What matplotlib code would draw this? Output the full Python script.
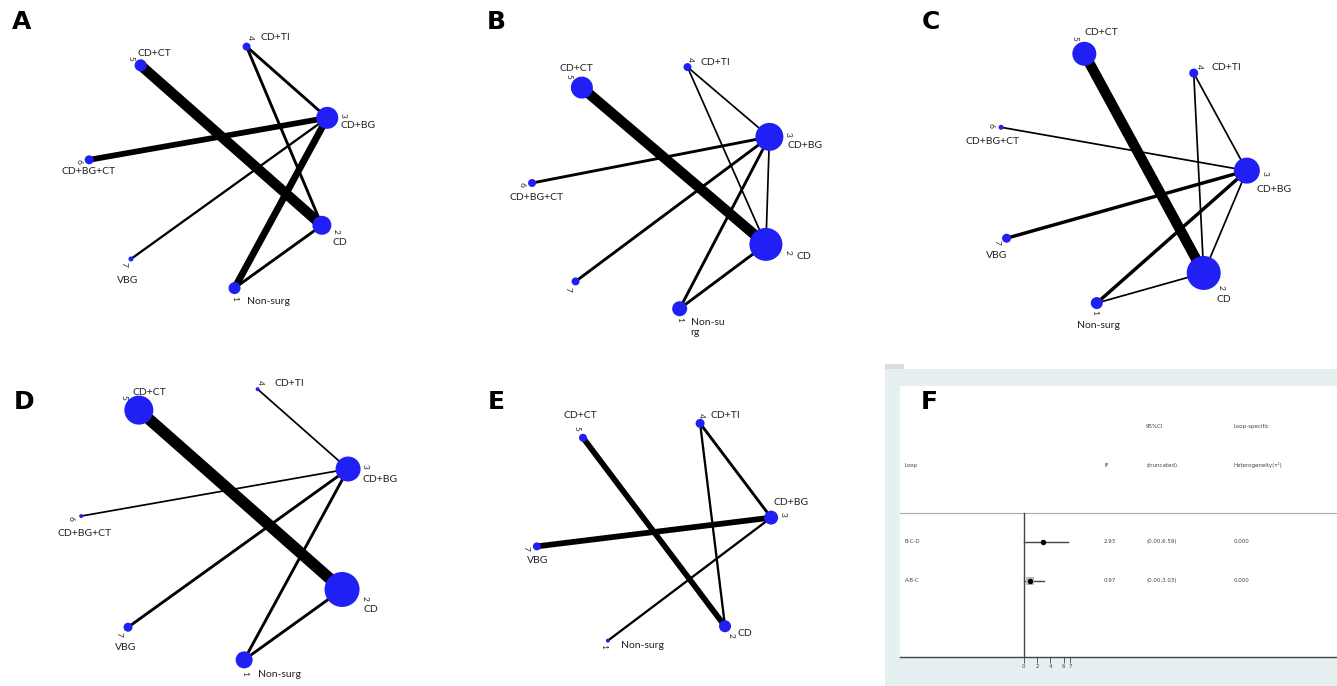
import numpy as np
import matplotlib
matplotlib.use('Agg')
import matplotlib.pyplot as plt
from matplotlib.patches import Rectangle
from matplotlib.transforms import blended_transform_factory

W, H, DPI = 1337, 686, 100
PT = 72 / DPI  # points per pixel

# ---- data -------------------------------------------------------------
names = ['Non-surg', 'CD', 'CD+BG', 'CD+TI', 'CD+CT', 'CD+BG+CT', 'VBG']

# node sizes (diameter) for nodes 1..7, edges and edge widths
a_nodes = [1, 2, 3, 4, 5, 6, 7]
a_size = [12, 19, 22, 8, 12, 9, 5]
a_edges = [(5, 2), (6, 3), (3, 1), (4, 3), (4, 2), (7, 3), (2, 1)]
a_width = [9, 5, 6, 2.5, 2.5, 2, 2.5]

b_nodes = [1, 2, 3, 4, 5, 6, 7]
b_size = [15, 33, 28, 8, 22, 8, 8]
b_edges = [(5, 2), (6, 3), (7, 3), (4, 3), (4, 2), (3, 2), (3, 1), (2, 1)]
b_width = [9, 2.5, 2.5, 1.5, 1.5, 1.5, 2.5, 2.5]

c_nodes = [1, 2, 3, 4, 5, 6, 7]
c_size = [12, 34, 26, 9, 24, 5, 9]
c_edges = [(5, 2), (6, 3), (7, 3), (4, 3), (4, 2), (3, 2), (3, 1), (2, 1)]
c_width = [9, 1.5, 3, 1.5, 1.5, 1.5, 3, 1.5]

d_nodes = [1, 2, 3, 4, 5, 6, 7]
d_size = [17, 35, 25, 4, 29, 4, 9]
d_edges = [(5, 2), (6, 3), (7, 3), (4, 3), (3, 1), (2, 1)]
d_width = [10, 1.5, 2.5, 1.5, 2.5, 2.5]

e_nodes = [1, 2, 3, 4, 5, 7]
e_size = [4, 12, 14, 9, 8, 8]
e_edges = [(5, 2), (7, 3), (4, 3), (4, 2), (3, 1)]
e_width = [5, 5, 2.5, 2, 2]

# inconsistency factor table (panel F)
loops = ['B-C-D', 'A-B-C']
if_vals = [2.93, 0.97]
ci_low = [0.00, 0.00]
ci_high = [6.59, 3.03]
tau2 = [0.000, 0.000]
box_size = [4, 8]
if_ticks = [0, 2, 4, 6, 7]

# ---- layout (pixels) --------------------------------------------------
panels = {
    'A': dict(nodes=a_nodes, size=a_size, edges=a_edges, width=a_width,
              c=(213, 166), r=124, a0=-80, letter=(22, 22),
              labels=names,
              num={1: (0, 10), 2: (14, 6), 3: (16, -2), 4: (4, -9),
                   5: (-10, -7), 6: (-10, 2), 7: (-7, 5)},
              lab={1: (12, 13), 2: (11, 17), 3: (13, 8), 4: (14, -9),
                   5: (-3, -12), 6: (-28, 12), 7: (-14, 22)}),
    'B': dict(nodes=b_nodes, size=b_size, edges=b_edges, width=b_width,
              c=(656, 187), r=124, a0=-79, letter=(496, 22),
              labels=['Non-su\nrg', 'CD', 'CD+BG', 'CD+TI', 'CD+CT',
                      'CD+BG+CT', ''],
              num={1: (0, 11), 2: (22, 8), 3: (19, -2), 4: (3, -8),
                   5: (-13, -11), 6: (-10, 1), 7: (-8, 8)},
              lab={1: (11, 19), 2: (31, 12), 3: (18, 9), 4: (13, -5),
                   5: (-22, -19), 6: (-23, 15), 7: (0, 0)}),
    'C': dict(nodes=c_nodes, size=c_size, edges=c_edges, width=c_width,
              c=(1119, 177), r=128, a0=-100, letter=(931, 22),
              labels=names,
              num={1: (-2, 9), 2: (17, 14), 3: (18, 3), 4: (6, -7),
                   5: (-9, -15), 6: (-10, -2), 7: (-10, 4)},
              lab={1: (-20, 22), 2: (13, 27), 3: (10, 19), 4: (18, -6),
                   5: (0, -21), 6: (-36, 14), 7: (-21, 17)}),
    'D': dict(nodes=d_nodes, size=d_size, edges=d_edges, width=d_width,
              c=(220, 523), r=139, a0=-80, letter=(24, 402),
              labels=names,
              num={1: (1, 14), 2: (23, 9), 3: (17, -3), 4: (3, -7),
                   5: (-15, -13), 6: (-10, 2), 7: (-9, 7)},
              lab={1: (14, 15), 2: (21, 20), 3: (14, 10), 4: (17, -6),
                   5: (-6, -18), 6: (-24, 17), 7: (-13, 20)}),
    'E': dict(nodes=e_nodes, size=e_size, edges=e_edges, width=e_width,
              c=(654, 532), r=118, a0=-113, letter=(496, 402),
              labels=names,
              num={1: (-4, 6), 2: (6, 9), 3: (12, -3), 4: (1, -8),
                   5: (-6, -9), 7: (-11, 2)},
              lab={1: (13, 5), 2: (12, 7), 3: (2, -15), 4: (10, -8),
                   5: (-19, -22), 7: (-10, 14)}),
}

NODE_COLOR = '#2020f5'
LABEL_FONT = ['Lato', 'DejaVu Sans']
EDGE_SCALE = 1.15

fig = plt.figure(figsize=(W / DPI, H / DPI), dpi=DPI)
fig.patch.set_facecolor('white')


def px_axes(x0, y0, x1, y1):
    """axes from pixel box (top-left origin)"""
    return fig.add_axes([x0 / W, 1 - y1 / H, (x1 - x0) / W, (y1 - y0) / H])


for key, p in panels.items():
    cx, cy = p['c']
    r = p['r']
    s = 1.7
    ax = px_axes(cx - s * r, cy - s * r, cx + s * r, cy + s * r)
    ax.set_xlim(-s, s)
    ax.set_ylim(-s, s)
    ax.axis('off')
    ax.patch.set_alpha(0)

    n = len(p['nodes'])
    ang = np.deg2rad(p['a0'] + 360.0 / n * np.arange(n))
    pos = {k: (np.cos(t), np.sin(t)) for k, t in zip(p['nodes'], ang)}

    for (i, j), w in zip(p['edges'], p['width']):
        ax.plot([pos[i][0], pos[j][0]], [pos[i][1], pos[j][1]],
                color='black', lw=w * PT * EDGE_SCALE,
                solid_capstyle='butt', zorder=2)

    xs = [pos[k][0] for k in p['nodes']]
    ys = [pos[k][1] for k in p['nodes']]
    ax.scatter(xs, ys, s=[(d * PT) ** 2 for d in p['size']],
               color=NODE_COLOR, edgecolors='none', zorder=3)

    for k in p['nodes']:
        dx, dy = p['num'][k]
        ax.annotate(str(k), pos[k], xytext=(dx * PT, -dy * PT),
                    textcoords='offset points', ha='center', va='center',
                    rotation=-90, fontsize=6, color='#222222',
                    family=LABEL_FONT, zorder=4)
        label = p['labels'][k - 1]
        if label:
            dx, dy = p['lab'][k]
            ax.annotate(label, pos[k], xytext=(dx * PT, -dy * PT),
                        textcoords='offset points', ha='left', va='center',
                        fontsize=7.5, color='#222222', family=LABEL_FONT,
                        linespacing=1.1, zorder=4)

    lx, ly = p['letter']
    fig.text(lx / W, 1 - ly / H, key, ha='center', va='center',
             fontsize=18, fontweight='bold', family='DejaVu Sans')

# ---- panel F ----------------------------------------------------------
fig.add_artist(Rectangle((885 / W, 0), (W - 885) / W, 1 - 369 / H,
                         transform=fig.transFigure, facecolor='#e7f0f1',
                         edgecolor='none', zorder=0))
fig.add_artist(Rectangle((885 / W, 1 - 369 / H), 19 / W, 5 / H,
                         transform=fig.transFigure, facecolor='#dcdcdc',
                         edgecolor='none', zorder=0))

px_unit = 6.67
zero_px = 1023.7
axf = px_axes(900, 386, W, 657)
axf.set_facecolor('white')
axf.set_xlim((900 - zero_px) / px_unit, (W - zero_px) / px_unit)
axf.set_ylim(3.95, -3.0)
for sp in ['top', 'right', 'left']:
    axf.spines[sp].set_visible(False)
axf.spines['bottom'].set_color('#444444')
axf.spines['bottom'].set_linewidth(1.0)
axf.set_yticks([])
axf.set_xticks(if_ticks)
axf.tick_params(axis='x', direction='out', length=4, width=0.6,
                colors='#444444', labelsize=4, pad=1)

rows = np.arange(1, len(loops) + 1)
axf.axhline(0.256, color='#aaaaaa', lw=0.8)
axf.plot([0, 0], [0.256, 3.95], color='#444444', lw=1.0)

for y, v, lo, hi, b in zip(rows, if_vals, ci_low, ci_high, box_size):
    axf.plot([lo, hi], [y, y], color='#444444', lw=1.0, zorder=2)
    axf.scatter([v], [y], marker='s', s=(b * PT) ** 2, color='#bbbbbb',
                edgecolors='none', zorder=3)
    axf.scatter([v], [y], marker='o', s=(4 * PT) ** 2, color='black',
                zorder=4)

tr = blended_transform_factory(axf.transAxes, axf.transData)
col_x = [0.011, 0.467, 0.563, 0.764]
tkw = dict(transform=tr, fontsize=4, color='#444444', va='center',
           ha='left', family='DejaVu Sans')
axf.text(col_x[2], -1.97, '95%CI', **tkw)
axf.text(col_x[3], -1.97, 'Loop-specific', **tkw)
axf.text(col_x[0], -0.97, 'Loop', **tkw)
axf.text(col_x[1], -0.97, 'IF', **tkw)
axf.text(col_x[2], -0.97, '(truncated)', **tkw)
axf.text(col_x[3], -0.97, 'Heterogeneity(τ²)', **tkw)
for y, name, v, lo, hi, t in zip(rows, loops, if_vals, ci_low, ci_high, tau2):
    axf.text(col_x[0], y, name, **tkw)
    axf.text(col_x[1], y, f'{v:.2f}', **tkw)
    axf.text(col_x[2], y, f'({lo:.2f},{hi:.2f})', **tkw)
    axf.text(col_x[3], y, f'{t:.3f}', **tkw)

fig.text(929 / W, 1 - 402 / H, 'F', ha='center', va='center',
         fontsize=18, fontweight='bold', family='DejaVu Sans')

fig.savefig('out.png', dpi=DPI)
